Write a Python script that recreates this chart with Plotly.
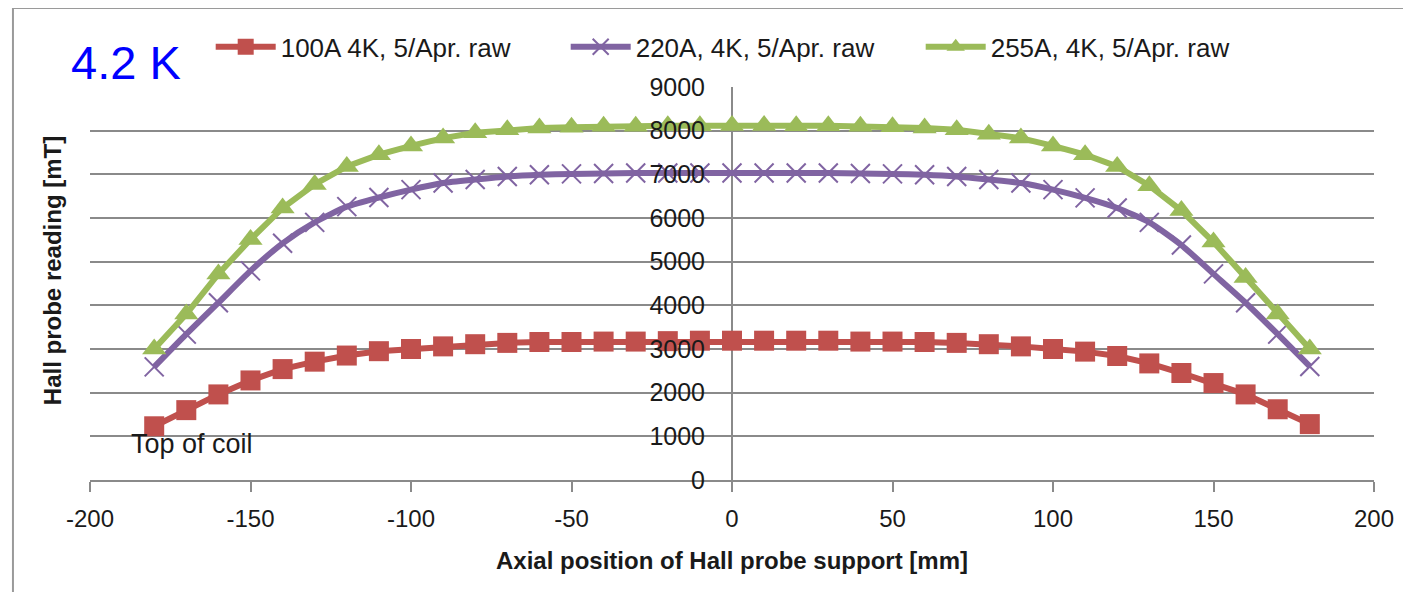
import plotly.graph_objects as go

# ---------------- data ----------------
POSITIONS = [-180, -170, -160, -150, -140, -130, -120, -110, -100, -90, -80, -70, -60,
             -50, -40, -30, -20, -10, 0, 10, 20, 30, 40, 50, 60, 70, 80, 90, 100,
             110, 120, 130, 140, 150, 160, 170, 180]

RAW_100A = [1230, 1600, 1960, 2280, 2540, 2710, 2850, 2950, 3000, 3060, 3110, 3140, 3160,
            3160, 3170, 3170, 3180, 3190, 3190, 3190, 3190, 3190, 3170, 3170, 3160, 3140,
            3110, 3060, 3000, 2940, 2840, 2670, 2450, 2220, 1960, 1620, 1280]

RAW_220A = [2590, 3340, 4060, 4790, 5420, 5900, 6260, 6470, 6650, 6800, 6880, 6950, 6990,
            7010, 7020, 7030, 7030, 7030, 7030, 7030, 7030, 7030, 7020, 7010, 6990, 6950,
            6880, 6800, 6650, 6460, 6230, 5900, 5380, 4720, 4060, 3340, 2600]

RAW_255A = [3000, 3800, 4720, 5510, 6230, 6770, 7180, 7450, 7650, 7830, 7950, 8020, 8060,
            8080, 8100, 8100, 8110, 8110, 8120, 8120, 8110, 8110, 8100, 8090, 8060, 8020,
            7920, 7830, 7650, 7450, 7180, 6740, 6170, 5450, 4640, 3800, 3000]

SERIES_NAMES = ["100A 4K, 5/Apr. raw", "220A, 4K, 5/Apr. raw", "255A, 4K, 5/Apr. raw"]

X_TICKS = [-200, -150, -100, -50, 0, 50, 100, 150, 200]
Y_TICKS = [0, 1000, 2000, 3000, 4000, 5000, 6000, 7000, 8000, 9000]

# ---------------- styles ----------------
FONT = "Liberation Sans, Arial, sans-serif"
RED = "#C0504D"
PURPLE = "#8064A2"
GREEN = "#9BBB59"
GRID = "#8a8a8a"
FRAME = "#9a9a9a"

fig = go.Figure()

fig.add_trace(go.Scatter(
    x=POSITIONS, y=RAW_100A, name=SERIES_NAMES[0], mode="lines+markers",
    line=dict(color=RED, width=6),
    marker=dict(symbol="square", size=20, color=RED),
))
fig.add_trace(go.Scatter(
    x=POSITIONS, y=RAW_220A, name=SERIES_NAMES[1], mode="lines+markers",
    line=dict(color=PURPLE, width=6, shape="spline", smoothing=0.6),
    marker=dict(symbol="x-thin", size=19, color=PURPLE,
                line=dict(color=PURPLE, width=2)),
))
fig.add_trace(go.Scatter(
    x=POSITIONS, y=RAW_255A, name=SERIES_NAMES[2], mode="lines+markers",
    line=dict(color=GREEN, width=6),
    marker=dict(symbol="triangle-up", size=21, color=GREEN),
))

fig.update_layout(
    width=1403, height=584,
    margin=dict(l=82, r=37, t=79, b=112, autoexpand=False),
    paper_bgcolor="white", plot_bgcolor="white",
    font=dict(family=FONT, size=24, color="#1a1a1a"),
    showlegend=True,
    legend=dict(
        orientation="h", x=0.094, xanchor="left", y=1.102, yanchor="middle",
        font=dict(family=FONT, size=26, color="#1a1a1a"),
        itemwidth=60, entrywidth=280, entrywidthmode="pixels",
        bgcolor="rgba(0,0,0,0)", traceorder="normal",
    ),
    xaxis=dict(
        range=[-200, 200], tickvals=X_TICKS, ticktext=[str(v) for v in X_TICKS],
        showgrid=False, zeroline=True, zerolinecolor=GRID, zerolinewidth=1.5,
        showline=True, linecolor=GRID, linewidth=2,
        ticks="outside", ticklen=10, tickwidth=1.5, tickcolor=GRID,
        tickfont=dict(family=FONT, size=24, color="#1a1a1a"),
        ticklabelstandoff=6,
    ),
    yaxis=dict(
        range=[0, 9000], tickvals=Y_TICKS, ticktext=[str(v) for v in Y_TICKS],
        anchor="free", position=0.5, side="left",
        showgrid=True, gridcolor=GRID, gridwidth=1.5, zeroline=False,
        showline=False, ticks="",
        tickfont=dict(family=FONT, size=25, color="#1a1a1a"),
        ticklabelstandoff=27,
    ),
    shapes=[
        dict(type="line", xref="paper", yref="paper",
             x0=-0.060, x1=1.2, y0=1.201, y1=1.201,
             line=dict(color=FRAME, width=2), layer="below"),
        dict(type="line", xref="paper", yref="paper",
             x0=-0.060, x1=-0.060, y0=-0.4, y1=1.201,
             line=dict(color=FRAME, width=2), layer="below"),
    ],
    annotations=[
        dict(text="4.2 K", xref="paper", yref="paper", x=-0.016, y=1.062,
             xanchor="left", yanchor="middle", showarrow=False,
             font=dict(family="Liberation Sans Narrow, Arial Narrow, Liberation Sans, Arial",
                       size=47, color="#0000ff")),
        dict(text="<b>Hall probe reading [mT]</b>", xref="paper", yref="paper",
             x=-0.0296, y=0.534, xanchor="center", yanchor="middle",
             textangle=-90, showarrow=False,
             font=dict(family=FONT, size=24, color="#1a1a1a")),
        dict(text="<b>Axial position of Hall probe support [mm]</b>", xref="paper",
             yref="paper", x=0.5, y=-0.2036, xanchor="center", yanchor="middle",
             showarrow=False, font=dict(family=FONT, size=24, color="#1a1a1a")),
        dict(text="Top of coil", xref="x", yref="y", x=-188, y=820,
             xanchor="left", yanchor="middle", showarrow=False,
             font=dict(family=FONT, size=27, color="#1a1a1a")),
    ],
)

fig.write_html("out.html")
